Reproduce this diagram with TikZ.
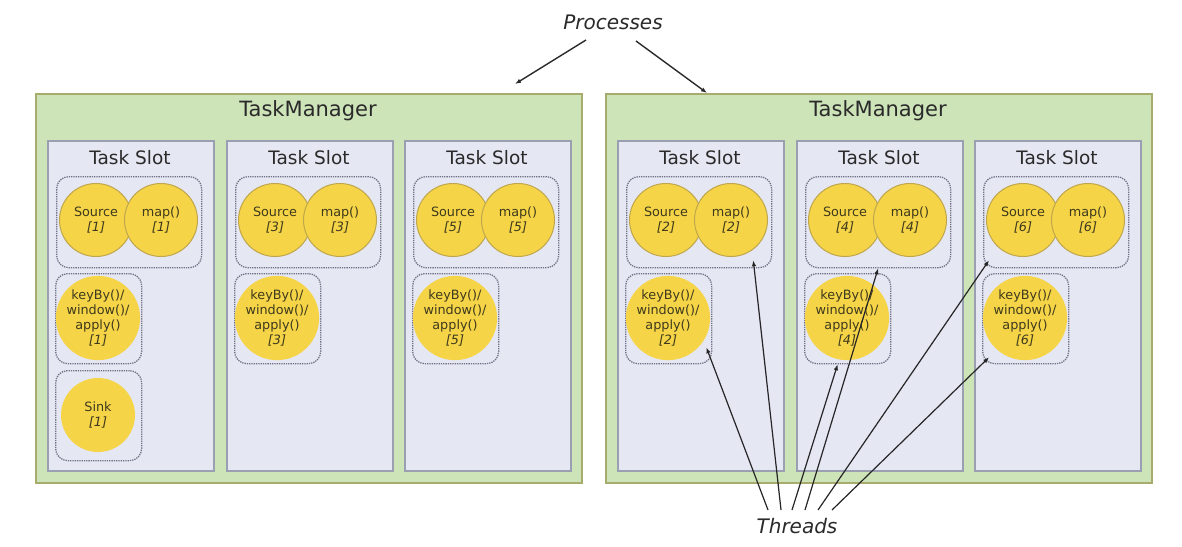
\documentclass[tikz,border=0pt]{standalone}
\usepackage{fontspec}
\setmainfont{DejaVu Sans}
\usetikzlibrary{arrows.meta,calc}
\definecolor{tmfill}{HTML}{CDE3B8}
\definecolor{tmdraw}{HTML}{A7AC6C}
\definecolor{slotfill}{HTML}{E5E7F3}
\definecolor{slotdraw}{HTML}{9AA0B2}
\definecolor{grpdraw}{HTML}{6E7284}
\definecolor{opfill}{HTML}{F6D448}
\definecolor{opdraw}{HTML}{BFA64C}
\definecolor{optext}{HTML}{3E3A1C}
\definecolor{labtext}{HTML}{2A2A2A}
\tikzset{
  tmbox/.style={draw=tmdraw, fill=tmfill, line width=2pt, minimum width=546pt, minimum height=389pt, inner sep=0pt, anchor=north west},
  tmlabel/.style={font=\fontsize{21}{25}\selectfont, text=labtext},
  slotbox/.style={draw=slotdraw, fill=slotfill, line width=1.5pt, minimum width=166pt, minimum height=330pt, inner sep=0pt, anchor=north west},
  slotlabel/.style={font=\fontsize{18.5}{22}\selectfont, text=labtext},
  grpbox/.style={draw=grpdraw, densely dotted, line width=1.3pt, rounded corners=12pt, inner sep=0pt, anchor=north west},
  opcirc/.style={circle, fill=opfill, draw=opdraw, line width=1pt, minimum size=73pt, inner sep=0pt, align=center, font=\fontsize{12.8}{15}\selectfont, text=optext},
  opcircnb/.style={opcirc, draw=none, minimum size=74pt},
  biglabel/.style={font=\fontsize{20}{24}\selectfont\itshape, text=labtext},
  procarrow/.style={draw=labtext, line width=1.4pt, -{Latex[length=6pt,width=4.5pt]}},
  thrarrow/.style={draw=black!85, line width=1.2pt, -{Latex[length=6pt,width=4.5pt]}}
}
\newcommand\mkslot[2]{%
  \node[slotbox] (slot#2) at (#1,140) {};
  \node[slotlabel] (slotlab#2) at (#1+83,158) {Task Slot};
  \node[grpbox, minimum width=145pt, minimum height=91pt] (grp#2) at (#1+9,176) {};
  \node[opcirc] (src#2) at (#1+49,220) {Source\\\textit{[#2]}};
  \node[opcirc] (map#2) at (#1+114,220) {map()\\\textit{[#2]}};
  \node[grpbox, minimum width=86pt, minimum height=90pt] (kbbox#2) at (#1+8,273) {};
  \node[opcircnb] (kb#2) at (#1+51,318) {keyBy()/\\window()/\\apply()\\\textit{[#2]}};
}
\begin{document}
\begin{tikzpicture}[x=1pt,y=-1pt]
  \useasboundingbox (0,0) rectangle (1182,546);
  \fill[white] (0,0) rectangle (1182,546);
  % TaskManagers
  \node[tmbox] (tm1) at (35,93) {};
  \node[tmbox] (tm2) at (605,93) {};
  \node[tmlabel] (tmlab1) at (308,111) {TaskManager};
  \node[tmlabel] (tmlab2) at (878,111) {TaskManager};
  % slots
  \mkslot{47}{1}
  \mkslot{226}{3}
  \mkslot{404}{5}
  \mkslot{617}{2}
  \mkslot{796}{4}
  \mkslot{974}{6}
  % sink
  \node[grpbox, minimum width=86pt, minimum height=90pt] (sinkbox1) at (55,370) {};
  \node[opcircnb] (sink1) at (98,415) {Sink\\\textit{[1]}};
  % labels
  \node[biglabel] (proc) at (613,22) {Processes};
  \node[biglabel] (threads) at (797,526) {Threads};
  % process arrows
  \draw[procarrow] ($(proc.center)+(-27,18)$) -- ($(tm1.north east)+(-68,-9)$);
  \draw[procarrow] ($(proc.center)+(23,19)$) -- ($(tm2.north west)+(102,0)$);
  % thread arrows
  \draw[thrarrow] ($(threads.center)+(-29,-16)$) -- ($(kbbox2.south east)+(-6,-17)$);
  \draw[thrarrow] ($(threads.center)+(-16,-16)$) -- ($(grp2.south east)+(-19,-8)$);
  \draw[thrarrow] ($(threads.center)+(-5,-16)$) -- ($(kbbox4.south)+(-10,0)$);
  \draw[thrarrow] ($(threads.center)+(8,-16)$) -- (grp4.south);
  \draw[thrarrow] ($(threads.center)+(21,-16)$) -- ($(grp6.south west)+(6,-8)$);
  \draw[thrarrow] ($(threads.center)+(35,-16)$) -- ($(kbbox6.south west)+(7,-7)$);
\end{tikzpicture}
\end{document}
